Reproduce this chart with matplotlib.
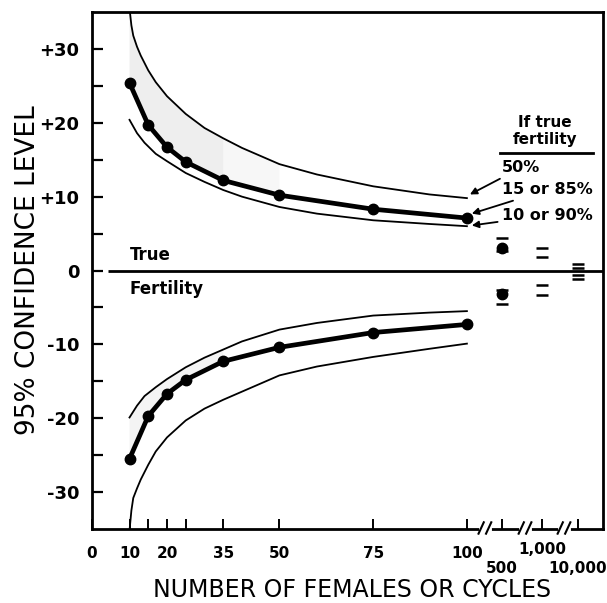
import matplotlib

matplotlib.use("agg")
import matplotlib.pyplot as plt
import numpy as np
from matplotlib import rcParams
from matplotlib.transforms import blended_transform_factory

rcParams["font.family"] = "DejaVu Sans"
rcParams["axes.unicode_minus"] = False

# --- values ---
# thick curve with dots (15 or 85 % true fertility)
n_pts = [10, 15, 20, 25, 35, 50, 75, 100]
mid_up = [25.4, 19.7, 16.7, 14.7, 12.2, 10.2, 8.3, 7.1]
mid_lo = [-25.5, -19.7, -16.7, -14.8, -12.3, -10.4, -8.4, -7.3]

# 50 % true fertility (outer band)
out_up_x = [10, 10.5, 11, 12, 13, 15, 17, 20, 25, 30, 35, 40, 50, 60, 75, 90, 100]
out_up = [35.5, 33.2, 31.8, 30.3, 29.1, 27.1, 25.5, 23.6, 21.2, 19.3, 17.9, 16.6,
          14.4, 13.0, 11.4, 10.3, 9.8]
out_lo_x = [10, 10.5, 11, 12, 13, 15, 17, 20, 25, 30, 35, 40, 50, 60, 75, 90, 100]
out_lo = [-35.2, -32.5, -30.8, -29.5, -28.3, -26.3, -24.5, -22.6, -20.3, -18.7,
          -17.5, -16.4, -14.2, -13.0, -11.7, -10.6, -9.9]

# 10 or 90 % true fertility (inner band)
in_x = [10, 12, 14, 17, 20, 25, 30, 35, 40, 50, 60, 75, 90, 100]
in_up = [20.4, 18.6, 17.3, 15.8, 14.8, 13.2, 12.0, 10.9, 10.0, 8.6, 7.7, 6.8, 6.3, 6.0]
in_lo = [-19.9, -18.3, -17.0, -15.8, -14.7, -13.1, -11.8, -10.7, -9.6, -8.0, -7.1,
         -6.1, -5.7, -5.5]

# large sample sizes on the broken part of the axis
big_n = ["500", "1,000", "10,000"]
big_pos = [109.3, 120.0, 129.6]  # where each sits on the broken axis
big_row = [1, 0, 1]  # 0 = upper label row, 1 = lower label row
big_dots = {"500": [3.1, -3.2]}
big_dash = {
    "500": [4.4, 2.7, -2.7, -4.6],
    "1,000": [3.1, 1.8, -2.0, -3.3],
    "10,000": [0.9, 0.35, -0.65, -1.15],
}

x_ticks = [0, 10, 15, 20, 25, 35, 50, 75, 100]
x_labels = ["0", "10", "", "20", "", "35", "50", "75", "100"]
y_ticks = [-30, -20, -10, 0, 10, 20, 30]
y_labels = ["-30", "-20", "-10", "0", "+10", "+20", "+30"]
breaks = [104.8, 115.5, 125.9]

fig = plt.figure(figsize=(6.07, 6.03), dpi=100)
ax = fig.add_axes([0.1516, 0.1227, 0.8418, 0.8574])
ax.set_xlim(0, 136.3)
ax.set_ylim(-35, 35)

# stippled shading
ax.fill(
    np.concatenate([out_up_x[:11], n_pts[:5][::-1]]),
    np.concatenate([out_up[:11], mid_up[:5][::-1]]),
    color="0.6", alpha=0.16, lw=0,
)
ax.fill(
    np.concatenate([out_up_x[10:13], n_pts[4:6][::-1]]),
    np.concatenate([out_up[10:13], mid_up[4:6][::-1]]),
    color="0.6", alpha=0.08, lw=0,
)
ax.fill(
    np.concatenate([in_x[:8], n_pts[:5][::-1]]),
    np.concatenate([in_lo[:8], mid_lo[:5][::-1]]),
    color="0.6", alpha=0.10, lw=0,
)

for xs, ys in [(out_up_x, out_up), (out_lo_x, out_lo), (in_x, in_up), (in_x, in_lo)]:
    ax.plot(xs, ys, color="k", lw=1.3, clip_on=True)

for ys in [mid_up, mid_lo]:
    ax.plot(n_pts, ys, color="k", lw=3.4, marker="o", ms=7.5, solid_capstyle="round")

# zero line
ax.hlines(0, 4.3, 136.3, color="k", lw=2.0)

# broken axis values
for lab, xp in zip(big_n, big_pos):
    ys = big_dash[lab]
    ax.plot([xp] * len(ys), ys, ls="none", marker="_", ms=8, mew=1.8, color="k")
    if lab in big_dots:
        d = big_dots[lab]
        ax.plot([xp] * len(d), d, ls="none", marker="o", ms=7.5, color="k")

# ticks
ax.set_xticks(x_ticks + big_pos)
ax.set_xticklabels(x_labels + [""] * len(big_pos), fontsize=11, fontweight="bold")
ax.set_yticks(y_ticks)
ax.set_yticks([-25, -15, -5, 5, 15, 25], minor=True)
ax.set_yticklabels(y_labels, fontsize=13, fontweight="bold")
ax.tick_params(axis="y", which="both", direction="in", length=8, width=1.6, pad=9)
ax.tick_params(axis="x", direction="in", length=7, width=1.4, pad=12)
for sp in ax.spines.values():
    sp.set_linewidth(2.0)

# two-row labels for the broken part
trans = blended_transform_factory(ax.transData, ax.transAxes)
row_y = [-0.04, -0.077]
for lab, xp, row in zip(big_n, big_pos, big_row):
    ax.text(xp, row_y[row], lab, transform=trans, fontsize=11, fontweight="bold",
            ha="center", va="center", clip_on=False)

# break marks on the x axis
for bx in breaks:
    ax.plot([bx - 1.0, bx + 1.0], [0, 0], color="white", lw=3.5,
            transform=trans, clip_on=False, zorder=5)
    for off in [-1.0, 1.0]:
        ax.plot([bx + off - 0.7, bx + off + 0.7], [-0.009, 0.013], color="k",
                lw=1.5, transform=trans, clip_on=False, zorder=6)

# in-plot text
ax.text(10.1, 0.9, "True", fontsize=12, fontweight="bold", va="bottom", ha="left")
ax.text(10.1, -1.3, "Fertility", fontsize=12, fontweight="bold", va="top", ha="left")

ax.text(120.8, 20.1, "If true", fontsize=11, fontweight="bold", ha="center", va="center")
ax.text(120.8, 17.8, "fertility", fontsize=11, fontweight="bold", ha="center", va="center")
ax.plot([108.8, 133.6], [15.9, 15.9], color="k", lw=2.0)

legend_items = [
    ("50%", 13.9, (100.8, 10.3)),
    ("15 or 85%", 10.9, (101.3, 7.7)),
    ("10 or 90%", 7.5, (101.3, 6.1)),
]
for lab, ty, tip in legend_items:
    ax.annotate(
        lab, xy=tip, xytext=(109.3, ty), fontsize=11.5, fontweight="bold",
        va="center", ha="left",
        arrowprops=dict(arrowstyle="-|>", color="k", lw=1.3,
                        shrinkA=1, shrinkB=0, mutation_scale=10),
    )

fig.text(0.58, 0.021, "NUMBER OF FEMALES OR CYCLES", fontsize=17,
         ha="center", va="center")
fig.text(0.046, 0.552, "95% CONFIDENCE LEVEL", fontsize=19, rotation=90,
         ha="center", va="center")

plt.savefig("out.png")
plt.close(fig)
